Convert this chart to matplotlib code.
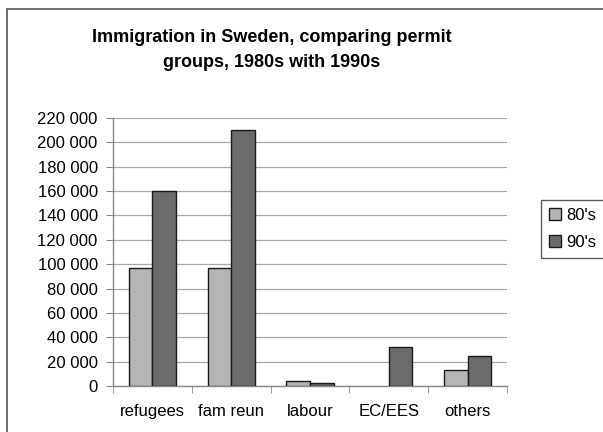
import matplotlib
matplotlib.use("Agg")
import matplotlib.pyplot as plt
from matplotlib.patches import Rectangle
import numpy as np

plt.rcParams["font.family"] = ["Liberation Sans", "DejaVu Sans"]

categories = ["refugees", "fam reun", "labour", "EC/EES", "others"]
series_names = ["80's", "90's"]
values_80s = [97000, 97000, 4000, 0, 13000]
values_90s = [160000, 210000, 2500, 32000, 25000]
y_ticks = list(range(0, 220001, 20000))

fig = plt.figure(figsize=(6.03, 4.32), dpi=100)
fig.patch.set_facecolor("white")

# outer chart frame (runs off the right and bottom edges)
fig.patches.append(Rectangle((7 / 603, -0.1), 1.2, 1.1 - 9 / 432,
                             transform=fig.transFigure, fill=False,
                             edgecolor="#555555", linewidth=1.2, clip_on=False))

ax = fig.add_axes([113 / 603, 1 - 386 / 432, (507 - 113) / 603, (386 - 118) / 432])

x = np.arange(len(categories))
w = 0.3
# zero-height bars get no outline
lw_80 = [1.0 if v else 0 for v in values_80s]
lw_90 = [1.0 if v else 0 for v in values_90s]
ax.bar(x - w / 2, values_80s, w, color="#b5b5b5", edgecolor="#1a1a1a", linewidth=lw_80,
       label=series_names[0], zorder=3)
ax.bar(x + w / 2, values_90s, w, color="#6b6b6b", edgecolor="#1a1a1a", linewidth=lw_90,
       label=series_names[1], zorder=3)

ax.set_xlim(-0.5, len(categories) - 0.5)
ax.set_ylim(0, 220000)
ax.set_yticks(y_ticks)
ax.set_yticklabels([f"{v:,}".replace(",", " ") for v in y_ticks], fontsize=12)
ax.set_xticks(x)
ax.set_xticklabels(categories, fontsize=12)
ax.set_xticks(np.arange(-0.5, len(categories)), minor=True)
ax.tick_params(axis="x", which="major", length=0, pad=13)
ax.tick_params(axis="x", which="minor", length=5, color="#888888", direction="out")
ax.tick_params(axis="y", length=5, color="#888888", direction="out", pad=6)

ax.grid(axis="y", color="#a8a8a8", linewidth=0.9, zorder=0)
for side in ("top", "right"):
    ax.spines[side].set_visible(False)
for side in ("left", "bottom"):
    ax.spines[side].set_color("#888888")
    ax.spines[side].set_linewidth(1.0)

fig.text(272 / 603, 1 - 50 / 432, "Immigration in Sweden, comparing permit\ngroups, 1980s with 1990s",
         ha="center", va="center", fontsize=13, fontweight="bold", linespacing=1.6)

leg = fig.legend(loc="upper left", bbox_to_anchor=(541 / 603, 1 - 200 / 432),
                 fontsize=12, frameon=True, fancybox=False, handlelength=0.75,
                 handleheight=0.75, handletextpad=0.3, borderpad=0.45, labelspacing=0.75,
                 borderaxespad=0)
leg.get_frame().set_edgecolor("#333333")
leg.get_frame().set_linewidth(1.0)

fig.savefig("out.png", dpi=100)
